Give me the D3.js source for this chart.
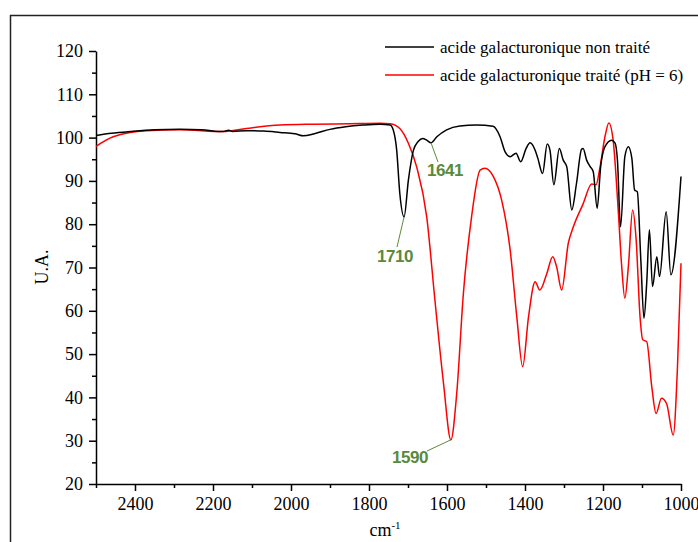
<!DOCTYPE html>
<html><head><meta charset="utf-8">
<script src="https://cdn.jsdelivr.net/npm/d3@7/dist/d3.min.js"></script>
<style>body{margin:0;background:#fff}svg{display:block}</style>
</head><body><svg id="c" width="698" height="542"></svg>
<script>
// wavenumber (cm-1) and U.A. values
const blackWn = [2500,2460,2413,2350,2285,2230,2174,2160,2150,2114,2070,2028,1990,1968,1940,1900,1860,1815,1772,1746,1738,1729,1721,1710,1699,1686,1674,1662,1652,1641,1626,1601,1567,1524,1482,1464,1451,1438,1423,1411,1397,1387,1374,1367,1355,1343,1336,1326,1312,1302,1293,1280,1268,1255,1251,1242,1233,1225,1215,1206,1195,1178,1169,1163,1155,1144,1135,1126,1119,1112,1103,1095,1088,1081,1073,1062,1055,1038,1026,1000];
const blackVal = [100.5,101.0,101.4,101.8,101.9,101.8,101.4,101.7,101.4,101.6,101.5,101.2,100.9,100.4,100.9,101.9,102.5,102.9,103.1,102.9,101.8,97.1,87.1,81.7,90.2,97.1,99.1,99.8,99.4,98.8,100.2,101.8,102.7,102.9,102.6,100.2,96.7,95.6,96.4,94.4,97.5,98.8,97.1,95.2,91.7,98.5,97.1,89.1,97.5,94.8,93.3,83.3,89.4,97.3,97.5,94.8,93.3,92.1,83.7,93.3,97.9,99.4,98.7,94.8,79.4,95.6,97.9,95.2,87.9,87.5,71.7,58.3,66.3,78.7,65.6,72.5,67.9,82.9,68.3,91];
const redWn = [2500,2456,2370,2285,2174,2114,2028,1944,1850,1772,1746,1721,1699,1678,1652,1631,1609,1590,1575,1558,1537,1515,1503,1481,1460,1438,1421,1406,1391,1374,1362,1344,1329,1319,1306,1289,1276,1251,1229,1218,1208,1195,1185,1174,1161,1152,1144,1135,1124,1115,1105,1098,1088,1075,1064,1050,1037,1020,1009,1000];
const redVal = [98,100.2,101.6,101.8,101.4,102.1,102.9,103.1,103.2,103.3,103.2,102.1,98.7,93.3,81.7,62.5,43.3,30.2,41,64,81.7,92.5,92.9,91,85.6,74,58.6,47.1,58.6,66.7,64.8,68.6,72.5,70.2,64.8,75.6,79.4,84.7,89.3,89.1,93,100.2,103.4,99.4,83.3,70.2,62.9,70.2,83.3,76.4,58.6,53.3,52.9,42.5,36.3,39.8,38.6,31.3,47.1,71];
const xTicks = [2400,2200,2000,1800,1600,1400,1200,1000];
const yTicks = [20,30,40,50,60,70,80,90,100,110,120];
const seriesNames = ["acide galacturonique non traité","acide galacturonique traité (pH = 6)"];
const peaks = [{label:"1710", wn:1710, v:81.7, lx:397, ly:247, tx:395, ty:256},
               {label:"1641", wn:1641, v:98.8, lx:438, ly:162, tx:445, ty:170},
               {label:"1590", wn:1590, v:30.2, lx:427, ly:451, tx:410, ty:457}];

const svg = d3.select("#c");
const L=96, R=681, T=51, B=484;
const x = d3.scaleLinear().domain([2500,1000]).range([L,R]);
const y = d3.scaleLinear().domain([20,120]).range([B,T]);

// outer frame
svg.append("rect").attr("x",10.5).attr("y",15.5).attr("width",720).attr("height",560)
  .attr("fill","none").attr("stroke","#222").attr("stroke-width",1.5);

const serif = "'Liberation Serif','Times New Roman',serif";

// axes
svg.append("g").attr("transform",`translate(0,${B})`)
  .call(d3.axisBottom(x).tickValues(xTicks).tickSize(7).tickSizeOuter(0).tickFormat(d3.format("d")).tickPadding(6));
svg.append("g").attr("transform",`translate(0,${B})`)
  .call(d3.axisBottom(x).tickValues(d3.range(2500,999,-100).filter(d=>!xTicks.includes(d))).tickSize(4).tickSizeOuter(0).tickFormat(""))
  .select(".domain").remove();
svg.append("g").attr("transform",`translate(${L},0)`)
  .call(d3.axisLeft(y).tickValues(yTicks).tickSize(7).tickSizeOuter(0).tickPadding(6));
svg.append("g").attr("transform",`translate(${L},0)`)
  .call(d3.axisLeft(y).tickValues(d3.range(25,120,10)).tickSize(4).tickSizeOuter(0).tickFormat(""))
  .select(".domain").remove();
svg.selectAll(".domain, .tick line").attr("stroke","#000").attr("stroke-width",1.5);
svg.selectAll(".tick text").attr("font-family",serif).attr("font-size",18).attr("fill","#000");

// axis titles
svg.append("text").attr("transform","translate(42,267) rotate(-90)").attr("text-anchor","middle")
  .attr("dominant-baseline","central").attr("font-family",serif).attr("font-size",18).text("U.A.");
const xt = svg.append("text").attr("x",385).attr("y",536).attr("text-anchor","middle")
  .attr("font-family",serif).attr("font-size",18);
xt.append("tspan").text("cm");
xt.append("tspan").attr("dy",-7).attr("font-size",11).text("-1");

// lines
const line = d3.line().x(d=>x(d[0])).y(d=>y(d[1])).curve(d3.curveMonotoneX);
const blackData = blackWn.map((w,i)=>[w,blackVal[i]]);
const redData = redWn.map((w,i)=>[w,redVal[i]]);
svg.append("path").datum(redData).attr("d",line).attr("fill","none").attr("stroke","#ff0000").attr("stroke-width",1.5);
svg.append("path").datum(blackData).attr("d",line).attr("fill","none").attr("stroke","#000").attr("stroke-width",1.5);

// peak annotations
const green = "#5a8a3c";
peaks.forEach(p=>{
  svg.append("line").attr("x1",x(p.wn)).attr("y1",y(p.v)).attr("x2",p.lx).attr("y2",p.ly)
    .attr("stroke",green).attr("stroke-width",1);
  svg.append("text").attr("x",p.tx).attr("y",p.ty).attr("text-anchor","middle").attr("dominant-baseline","central")
    .attr("font-family","'Liberation Sans',Arial,sans-serif").attr("font-weight","bold").attr("font-size",17)
    .attr("letter-spacing",-0.5).attr("fill",green).text(p.label);
});

// legend
const colors = ["#000","#ff0000"];
seriesNames.forEach((n,i)=>{
  const yy = 47 + i*28;
  svg.append("line").attr("x1",385).attr("x2",434).attr("y1",yy).attr("y2",yy).attr("stroke",colors[i]).attr("stroke-width",1.5);
  svg.append("text").attr("x",440).attr("y",yy).attr("dominant-baseline","central")
    .attr("font-family",serif).attr("font-size",17).text(n);
});
</script></body></html>
